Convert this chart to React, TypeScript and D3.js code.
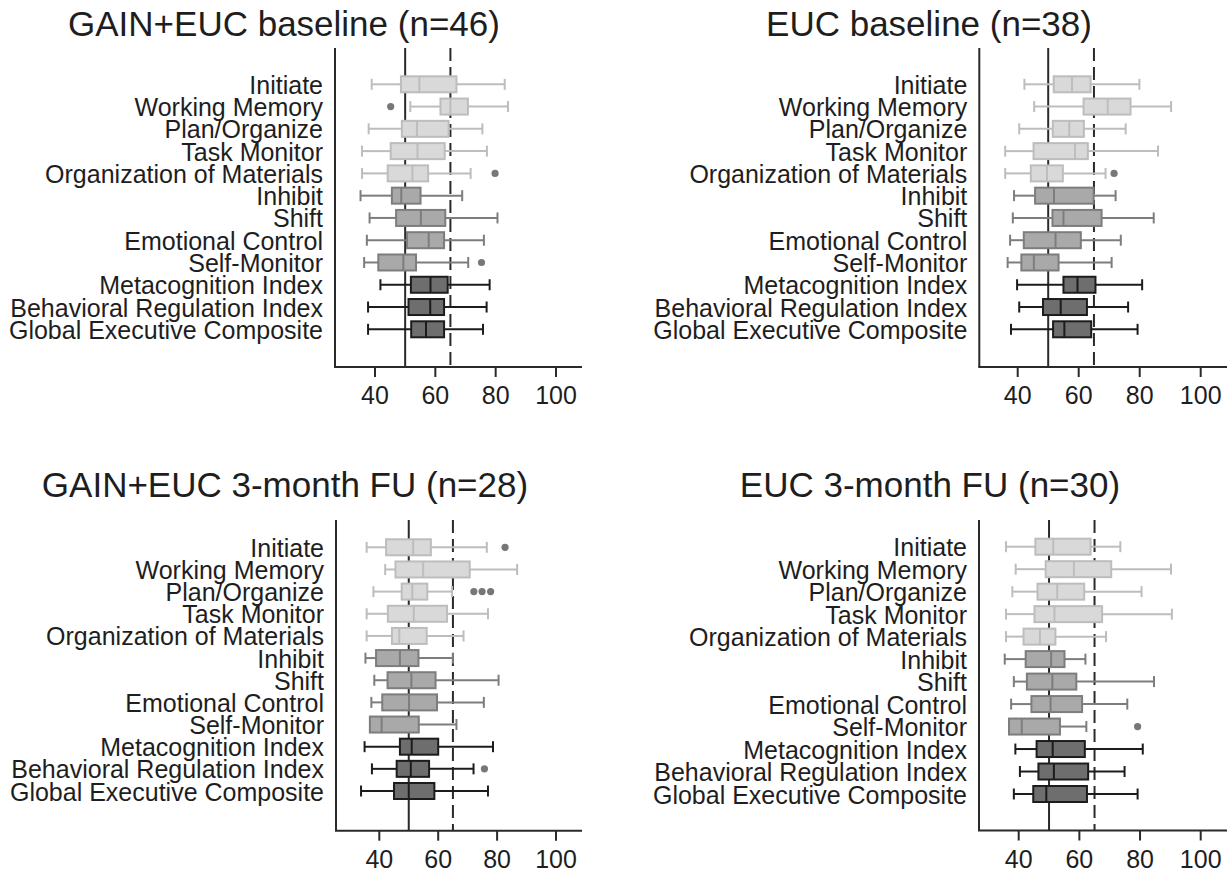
import * as d3 from "d3";

const WIDTH = 1229;
const HEIGHT = 875;

const measures = [
  "Initiate",
  "Working Memory",
  "Plan/Organize",
  "Task Monitor",
  "Organization of Materials",
  "Inhibit",
  "Shift",
  "Emotional Control",
  "Self-Monitor",
  "Metacognition Index",
  "Behavioral Regulation Index",
  "Global Executive Composite",
];

// shade group per measure: 0 = light (subscales), 1 = mid, 2 = dark (indexes)
const shadeGroup = [0, 0, 0, 0, 0, 1, 1, 1, 1, 2, 2, 2];

const xTicks = [40, 60, 80, 100];
const normLine = 50;
const cutoffLine = 65;

// [lower whisker, q1, median, q3, upper whisker]
const gainBaseline = [
  [38.9, 48.6, 54.7, 67.0, 83.0],
  [51.7, 61.7, 65.0, 70.8, 84.1],
  [37.9, 48.9, 53.9, 64.4, 75.6],
  [35.7, 45.2, 54.1, 63.1, 77.1],
  [35.7, 44.2, 52.4, 57.6, 71.7],
  [35.2, 45.6, 48.7, 55.1, 68.9],
  [38.2, 47.0, 55.2, 63.3, 80.6],
  [37.3, 50.6, 57.8, 62.9, 76.1],
  [36.4, 41.1, 49.4, 53.6, 70.9],
  [41.8, 51.9, 58.4, 64.1, 78.0],
  [37.7, 51.1, 58.3, 62.9, 77.0],
  [37.7, 52.0, 56.9, 62.9, 75.8],
];
const gainBaselineOut = [[1, 45.2], [4, 79.8], [8, 75.3]];

const eucBaseline = [
  [42.2, 51.8, 57.8, 63.9, 79.9],
  [45.4, 61.6, 69.5, 77.0, 90.3],
  [40.5, 51.5, 56.9, 61.7, 75.4],
  [35.9, 45.2, 58.8, 63.0, 86.0],
  [35.9, 44.3, 49.6, 54.8, 68.8],
  [38.8, 45.7, 51.9, 64.9, 72.1],
  [38.4, 51.4, 55.0, 67.5, 84.6],
  [37.5, 42.0, 52.4, 60.7, 73.8],
  [36.7, 41.2, 45.3, 53.4, 70.8],
  [39.8, 55.0, 59.6, 65.5, 80.8],
  [40.5, 48.3, 54.1, 62.7, 76.2],
  [37.8, 51.6, 55.3, 64.1, 79.3],
];
const eucBaselineOut = [[4, 71.6]];

const gainFollowUp = [
  [35.7, 42.3, 51.5, 57.5, 76.5],
  [42.0, 45.5, 54.9, 70.7, 86.8],
  [38.0, 47.6, 51.2, 56.3, 64.7],
  [35.7, 42.9, 51.7, 63.0, 76.9],
  [35.7, 44.3, 46.8, 56.1, 68.6],
  [35.3, 38.9, 47.0, 53.3, 65.0],
  [38.3, 42.8, 50.9, 59.1, 80.5],
  [37.3, 41.0, 50.1, 59.6, 75.5],
  [36.8, 36.8, 40.8, 53.4, 66.2],
  [35.0, 47.0, 51.0, 60.0, 78.6],
  [37.5, 45.9, 50.7, 56.9, 72.0],
  [33.8, 45.0, 50.0, 58.7, 76.9],
];
const gainFollowUpOut = [[0, 82.7], [2, 72.1], [2, 74.9], [2, 77.8], [10, 75.7]];

const eucFollowUp = [
  [35.8, 45.5, 51.4, 63.7, 73.5],
  [39.0, 48.9, 58.2, 70.5, 90.2],
  [37.9, 46.2, 52.7, 61.6, 80.5],
  [35.8, 45.2, 51.8, 67.5, 90.5],
  [35.8, 41.6, 47.0, 52.1, 68.8],
  [35.4, 42.3, 50.7, 55.1, 62.0],
  [38.4, 42.7, 51.1, 59.0, 84.6],
  [37.5, 44.2, 50.5, 60.9, 75.8],
  [36.8, 36.8, 41.0, 53.6, 62.3],
  [38.9, 45.9, 51.2, 61.8, 80.9],
  [40.4, 46.5, 51.6, 62.9, 74.9],
  [38.4, 44.8, 49.1, 62.5, 79.2],
];
const eucFollowUpOut = [[8, 79.2]];

const shades = [
  { fill: "#d9d9d9", stroke: "#bdbdbd" },
  { fill: "#a9a9a9", stroke: "#7d7d7d" },
  { fill: "#6e6e6e", stroke: "#1c1c1c" },
];

const FONT = "'Liberation Sans', Arial, Helvetica, sans-serif";
const INK = "#1e1e1e";

function Panel({ title, stats, outliers, g }) {
  const x = d3.scaleLinear().domain([40, 100]).range([g.x40, g.x100]);
  const y = d3.scalePoint().domain(measures).range([g.row0, g.row11]);
  const boxH = 16;
  const capH = 11;

  return (
    <g>
      <text
        x={g.titleX}
        y={g.titleY}
        textAnchor="middle"
        fontSize={35}
        fill={INK}
      >
        {title}
      </text>

      {/* reference lines, drawn under the boxes */}
      <line
        x1={x(normLine)}
        x2={x(normLine)}
        y1={g.top}
        y2={g.bottom}
        stroke="#2a2a2a"
        strokeWidth={2}
      />
      <line
        x1={x(cutoffLine)}
        x2={x(cutoffLine)}
        y1={g.top}
        y2={g.bottom}
        stroke="#2a2a2a"
        strokeWidth={2}
        strokeDasharray="13,6"
      />

      {measures.map((m, i) => {
        const [lo, q1, med, q3, hi] = stats[i];
        const s = shades[shadeGroup[i]];
        const cy = y(m);
        return (
          <g key={m}>
            <line x1={x(lo)} x2={x(q1)} y1={cy} y2={cy} stroke={s.stroke} strokeWidth={2} />
            <line x1={x(q3)} x2={x(hi)} y1={cy} y2={cy} stroke={s.stroke} strokeWidth={2} />
            {lo < q1 && (
              <line x1={x(lo)} x2={x(lo)} y1={cy - capH / 2} y2={cy + capH / 2} stroke={s.stroke} strokeWidth={2} />
            )}
            <line x1={x(hi)} x2={x(hi)} y1={cy - capH / 2} y2={cy + capH / 2} stroke={s.stroke} strokeWidth={2} />
            <rect
              x={x(q1)}
              y={cy - boxH / 2}
              width={x(q3) - x(q1)}
              height={boxH}
              fill={s.fill}
              stroke={s.stroke}
              strokeWidth={2}
            />
            <line x1={x(med)} x2={x(med)} y1={cy - boxH / 2} y2={cy + boxH / 2} stroke={s.stroke} strokeWidth={2} />
            <text
              x={g.axisLeft - 12}
              y={cy}
              dy="0.38em"
              textAnchor="end"
              fontSize={25}
              fill={INK}
            >
              {m}
            </text>
          </g>
        );
      })}

      {outliers.map(([row, v], k) => (
        <circle key={k} cx={x(v)} cy={y(measures[row])} r={3.6} fill="#777777" />
      ))}

      {/* axes */}
      <line x1={g.axisLeft} x2={g.axisLeft} y1={g.top} y2={g.bottom} stroke="#2a2a2a" strokeWidth={2} />
      <line x1={g.axisLeft - 1} x2={g.axisRight} y1={g.bottom} y2={g.bottom} stroke="#2a2a2a" strokeWidth={2} />
      {xTicks.map((t) => (
        <g key={t} transform={`translate(${x(t)},${g.bottom})`}>
          <line y1={0} y2={10} stroke="#2a2a2a" strokeWidth={2} />
          <text y={37} textAnchor="middle" fontSize={25} fill={INK}>
            {t}
          </text>
        </g>
      ))}
    </g>
  );
}

const panels = [
  {
    title: "GAIN+EUC baseline (n=46)",
    stats: gainBaseline,
    outliers: gainBaselineOut,
    g: { x40: 375, x100: 556, axisLeft: 335, axisRight: 582, top: 48, bottom: 367, row0: 84.3, row11: 329.3, titleX: 284, titleY: 36 },
  },
  {
    title: "EUC baseline (n=38)",
    stats: eucBaseline,
    outliers: eucBaselineOut,
    g: { x40: 1017.7, x100: 1200.7, axisLeft: 979.3, axisRight: 1227, top: 48, bottom: 367, row0: 84.3, row11: 329.3, titleX: 929, titleY: 36 },
  },
  {
    title: "GAIN+EUC 3-month FU (n=28)",
    stats: gainFollowUp,
    outliers: gainFollowUpOut,
    g: { x40: 379.3, x100: 556, axisLeft: 336, axisRight: 582, top: 520, bottom: 830.7, row0: 547.3, row11: 791, titleX: 285, titleY: 497 },
  },
  {
    title: "EUC 3-month FU (n=30)",
    stats: eucFollowUp,
    outliers: eucFollowUpOut,
    g: { x40: 1018.7, x100: 1200.7, axisLeft: 979, axisRight: 1227, top: 520, bottom: 830.5, row0: 546.7, row11: 794, titleX: 930, titleY: 497 },
  },
];

export default function App() {
  return (
    <svg
      width={WIDTH}
      height={HEIGHT}
      viewBox={`0 0 ${WIDTH} ${HEIGHT}`}
      style={{ position: "absolute", left: 0, top: 0, background: "#fff" }}
      fontFamily={FONT}
    >
      {panels.map((p) => (
        <Panel key={p.title} title={p.title} stats={p.stats} outliers={p.outliers} g={p.g} />
      ))}
    </svg>
  );
}
